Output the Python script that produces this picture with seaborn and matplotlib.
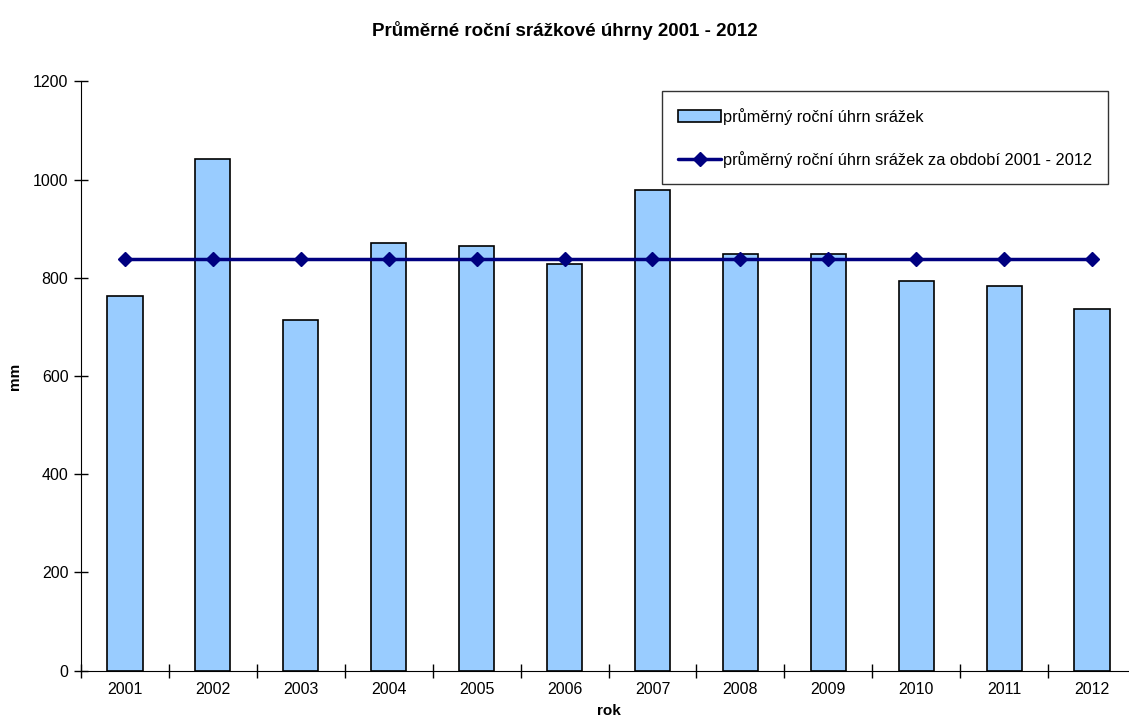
import numpy as np
import pandas as pd
import matplotlib
matplotlib.use('Agg')
import matplotlib.pyplot as plt
import seaborn as sns

# data
years = ['2001', '2002', '2003', '2004', '2005', '2006',
         '2007', '2008', '2009', '2010', '2011', '2012']
rainfall = [763, 1041, 713, 871, 865, 828, 978, 849, 848, 794, 783, 736]
mean_rainfall = [839] * 12

sns.set_style('white')
plt.rcParams['font.family'] = ['Liberation Sans', 'DejaVu Sans']
plt.rcParams.update({'text.color': 'black', 'axes.labelcolor': 'black',
                     'xtick.color': 'black', 'ytick.color': 'black'})

fig = plt.figure(figsize=(11.29, 7.2), dpi=100)
ax = fig.add_axes([81 / 1129, 49.3 / 720, 1055 / 1129, 589.4 / 720])

df = pd.DataFrame({'rok': years, 'mm': rainfall})
sns.barplot(data=df, x='rok', y='mm', color='#99CCFF', edgecolor='black',
            linewidth=1.2, width=0.4, saturation=1, ax=ax,
            label='průměrný roční úhrn srážek')
ax.plot(np.arange(len(years)), mean_rainfall, color='#000080', linewidth=2.5,
        marker='D', markersize=7, label='průměrný roční úhrn srážek za období 2001 - 2012')

ax.set_ylim(0, 1200)
ax.set_xlim(-0.5, len(years) - 0.5)
ax.set_yticks(range(0, 1201, 200))

# x ticks at category boundaries, labels in the middle
ax.set_xticks(np.arange(len(years)) - 0.5, minor=False)
ax.set_xticklabels([])
ax.set_xticks(np.arange(len(years)), minor=True)
ax.set_xticklabels(years, minor=True)
ax.tick_params(axis='x', which='major', bottom=True, direction='inout', length=10, width=1)
ax.tick_params(axis='x', which='minor', bottom=True, length=0, labelsize=11.5, pad=8)
ax.tick_params(axis='y', left=True, direction='inout', length=10, width=1, labelsize=11.5, pad=4)

for s in ['top', 'right']:
    ax.spines[s].set_visible(False)
ax.spines['left'].set_color('black')
ax.spines['bottom'].set_color('black')

ax.set_xlabel('rok', fontsize=11, fontweight='bold')
ax.set_ylabel('mm', fontsize=11, fontweight='bold')
ax.xaxis.set_label_coords(0.5, -0.057)
ax.yaxis.set_label_coords(-0.056, 0.5)
fig.text(0.5, 0.958, 'Průměrné roční srážkové úhrny 2001 - 2012',
         ha='center', va='center', fontsize=13.5, fontweight='bold')

handles, labels = ax.get_legend_handles_labels()
order = [labels.index('průměrný roční úhrn srážek'),
         labels.index('průměrný roční úhrn srážek za období 2001 - 2012')]
leg = ax.legend([handles[i] for i in order], [labels[i] for i in order],
                loc='upper left', bbox_to_anchor=(581 / 1055, 1 - 10 / 589.4),
                frameon=True, fancybox=False, fontsize=11.8, labelspacing=1.6,
                handlelength=2.6, handletextpad=0.1, borderpad=1.0, borderaxespad=0)
leg.get_frame().set_edgecolor('black')
leg.get_frame().set_linewidth(1)

fig.savefig('out.png', dpi=100)
